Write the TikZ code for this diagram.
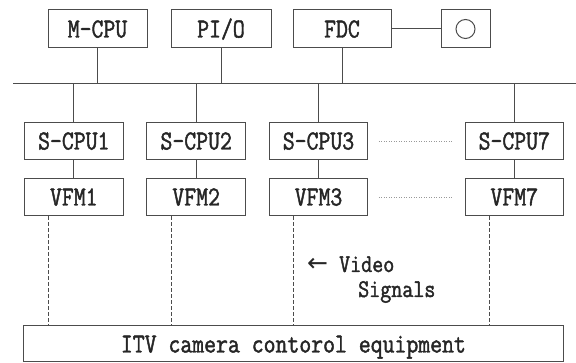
\documentclass[tikz,border=0pt]{standalone}
\usepackage{fontspec}
\usepackage{tikz}
\newfontfamily\diafont[FakeStretch=0.84,FakeBold=1.6]{Latin Modern Mono}
\newfontfamily\arrowfont{DejaVu Sans}

\tikzset{
  unit/.style={draw=black!70,line width=1pt,minimum height=37.5pt,inner sep=0pt,
    text height=17pt,text depth=0pt,font=\diafont\fontsize{27.5}{27.5}\selectfont,text=black!85},
  wire/.style={draw=black!70,line width=1pt},
  dashwire/.style={draw=black!70,line width=1pt,dash pattern=on 4pt off 2pt},
  dotwire/.style={draw=black!40,line width=0.8pt,dash pattern=on 1pt off 1.5pt},
  note/.style={inner sep=0pt,font=\diafont\fontsize{25.5}{25.5}\selectfont,text=black!85}
}

\begin{document}
\begin{tikzpicture}[x=1pt,y=-1pt]
    \useasboundingbox (0,0) rectangle (576,363);

    % main side
    \node[unit,minimum width=99pt,minimum height=38pt] (mcpu) at (97.5,29) {M-CPU};
    \node[unit,minimum width=100pt,minimum height=38pt] (pio) at (221,29) {PI/O};
    \node[unit,minimum width=98pt,minimum height=38pt] (fdc) at (342,29) {FDC};
    \node[unit,minimum width=49pt,minimum height=38pt] (fdd) at (465.5,29) {};
    \node[circle,draw=black!70,line width=1pt,minimum size=19pt,inner sep=0pt] (disk) at (fdd.center) {};
    \draw[wire] (fdc) -- (fdd);

    % system bus
    \coordinate (bus west) at (13,84);
    \coordinate (bus east) at (576,84);
    \draw[wire] (bus west) -- (bus east);
    \draw[wire] (mcpu) -- (mcpu |- bus west);
    \draw[wire] (pio) -- (pio |- bus west);
    \draw[wire] (fdc) -- (fdc |- bus west);

    % sub cpus and frame memories
    \node[unit,minimum width=98.5pt] (scpu1) at (73.8,141) {S-CPU1};
    \node[unit,minimum width=98.5pt] (scpu2) at (196.2,141) {S-CPU2};
    \node[unit,minimum width=98.5pt] (scpu3) at (318.5,141) {S-CPU3};
    \node[unit,minimum width=98.5pt] (scpu7) at (514.3,141) {S-CPU7};
    \node[unit,minimum width=98.5pt] (vfm1) at (73.8,197) {VFM1};
    \node[unit,minimum width=98.5pt] (vfm2) at (196.2,197) {VFM2};
    \node[unit,minimum width=98.5pt] (vfm3) at (318.5,197) {VFM3};
    \node[unit,minimum width=98.5pt] (vfm7) at (514.3,197) {VFM7};

    \foreach \n in {1,2,3,7} {
      \draw[wire] (bus west -| scpu\n) -- (scpu\n);
      \draw[wire] (scpu\n) -- (vfm\n);
    }
    \draw[dotwire] ([xshift=10.5pt]scpu3.east) -- ([xshift=-12pt]scpu7.west);
    \draw[dotwire] ([xshift=10.5pt]vfm3.east) -- ([xshift=-12pt]vfm7.west);

    % camera control
    \node[unit,minimum width=540pt,minimum height=36pt] (itv) at (293.4,344) {ITV camera contorol equipment};
    \foreach \n in {1,2,3,7}
      \draw[dashwire] ([xshift=-25pt]vfm\n.south) -- ([xshift=-25pt]vfm\n.south |- itv.north);

    \node[note,anchor=base west] (video) at (307,272) {{\arrowfont\fontsize{25}{25}\selectfont ←}\hspace{11pt}Video};
    \node[note,anchor=base west] (signals) at (358,297) {Signals};
  \end{tikzpicture}
\end{document}
